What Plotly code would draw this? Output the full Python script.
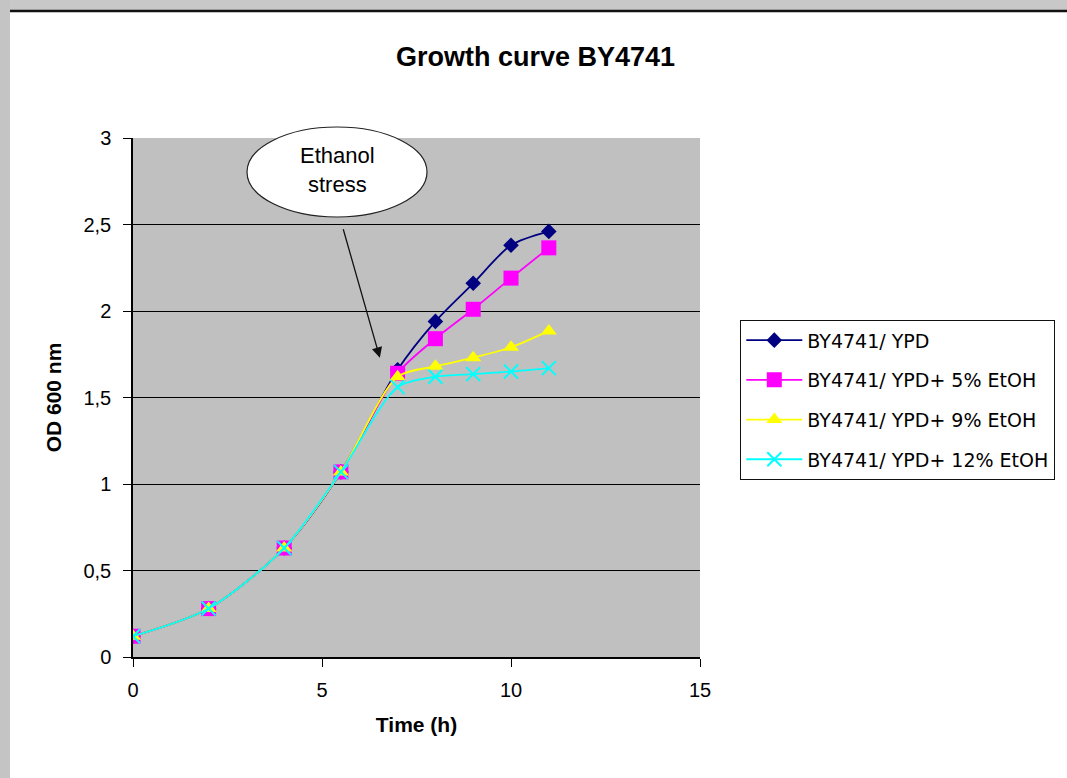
import plotly.graph_objects as go

# ---- data ----
time_h = [0, 2, 4, 5.5, 7, 8, 9, 10, 11]
od_ypd = [0.12, 0.28, 0.63, 1.07, 1.66, 1.94, 2.16, 2.38, 2.46]
od_5 = [0.12, 0.28, 0.63, 1.07, 1.64, 1.84, 2.01, 2.19, 2.365]
od_9 = [0.12, 0.28, 0.63, 1.07, 1.62, 1.68, 1.73, 1.79, 1.885]
od_12 = [0.12, 0.28, 0.63, 1.07, 1.56, 1.62, 1.635, 1.65, 1.67]
series_names = ["BY4741/ YPD", "BY4741/ YPD+ 5% EtOH", "BY4741/ YPD+ 9% EtOH", "BY4741/ YPD+ 12% EtOH"]
series_colors = ["#000080", "#FF00FF", "#FFFF00", "#00FFFF"]
series_symbols = ["diamond", "square", "triangle-up", "x-thin"]
series_sizes = [12, 15, 14, 14]

W, H = 1067, 778
L, R, T, B = 133, 700, 138, 657

def px(xp):
    return (xp - L) / (R - L)

def py(yp):
    return (B - yp) / (B - T)

FONT = "Liberation Sans, Arial, sans-serif"

fig = go.Figure()
for name, ys, col, sym, sz in zip(series_names, [od_ypd, od_5, od_9, od_12],
                                  series_colors, series_symbols, series_sizes):
    fig.add_trace(go.Scatter(
        x=time_h, y=ys, name=name, mode="lines+markers",
        line=dict(color=col, width=1.8, shape="spline", smoothing=0.8),
        marker=dict(symbol=sym, size=sz, color=col,
                    line=dict(color=col, width=2 if sym == "x-thin" else 0)),
        legendgroup=name,
    ))

shapes = [
    # page frame
    dict(type="rect", xref="paper", yref="paper", x0=px(0), x1=px(W), y0=py(0), y1=py(10),
         fillcolor="#C8C8C8", line=dict(width=0), layer="above"),
    dict(type="rect", xref="paper", yref="paper", x0=px(0), x1=px(10), y0=py(0), y1=py(H),
         fillcolor="#C4C4C4", line=dict(width=0), layer="above"),
    dict(type="line", xref="paper", yref="paper", x0=px(10), x1=px(W), y0=py(11), y1=py(11),
         line=dict(color="#111111", width=2.5), layer="above"),
    # callout ellipse
    dict(type="circle", xref="paper", yref="paper", x0=px(247), x1=px(427), y0=py(217), y1=py(127),
         fillcolor="white", line=dict(color="#222222", width=1.2), layer="above"),
]

annotations = [
    dict(xref="paper", yref="paper", x=px(337), y=py(170), text="Ethanol<br>stress",
         showarrow=False, font=dict(family=FONT, size=22, color="#000"),
         xanchor="center", yanchor="middle"),
    dict(xref="x", yref="y", x=6.53, y=1.73, ax=-37, ay=-130, text="", showarrow=True,
         arrowhead=2, arrowsize=1.6, arrowwidth=1.3, arrowcolor="#111111"),
    dict(xref="paper", yref="paper", x=px(535), y=py(57), text="<b>Growth curve BY4741</b>",
         showarrow=False, font=dict(family=FONT, size=27, color="#000"),
         xanchor="center", yanchor="middle"),
]

fig.update_layout(
    width=W, height=H,
    margin=dict(l=L, r=W - R, t=T, b=H - B),
    paper_bgcolor="white", plot_bgcolor="#C0C0C0",
    separators=", ",
    font=dict(family=FONT, size=20, color="#000"),
    shapes=shapes, annotations=annotations,
    showlegend=True,
    legend=dict(x=px(740), y=py(320), xanchor="left", yanchor="top",
                bgcolor="white", bordercolor="#111111", borderwidth=1.3,
                font=dict(family="DejaVu Sans", size=19, color="#000"),
                tracegroupgap=12, itemwidth=56),
)
fig.update_xaxes(range=[0, 15], tick0=0, dtick=5, showgrid=False, zeroline=False,
                 showline=True, linecolor="#000", linewidth=1.5, ticks="outside",
                 ticklen=8, tickcolor="#000", ticklabelstandoff=6,
                 title=dict(text="<b>Time (h)</b>", font=dict(size=21), standoff=18))
fig.update_yaxes(range=[0, 3], tick0=0, dtick=0.5, showgrid=True, gridcolor="#000",
                 gridwidth=1.3, zeroline=False, showline=True, linecolor="#000", linewidth=1.5,
                 ticks="outside", ticklen=8, tickcolor="#000", ticklabelstandoff=8,
                 title=dict(text="<b>OD 600 nm</b>", font=dict(size=21), standoff=16))

fig.write_html("out.html", config={"displayModeBar": False},
               post_script="document.body.style.margin='0';")
